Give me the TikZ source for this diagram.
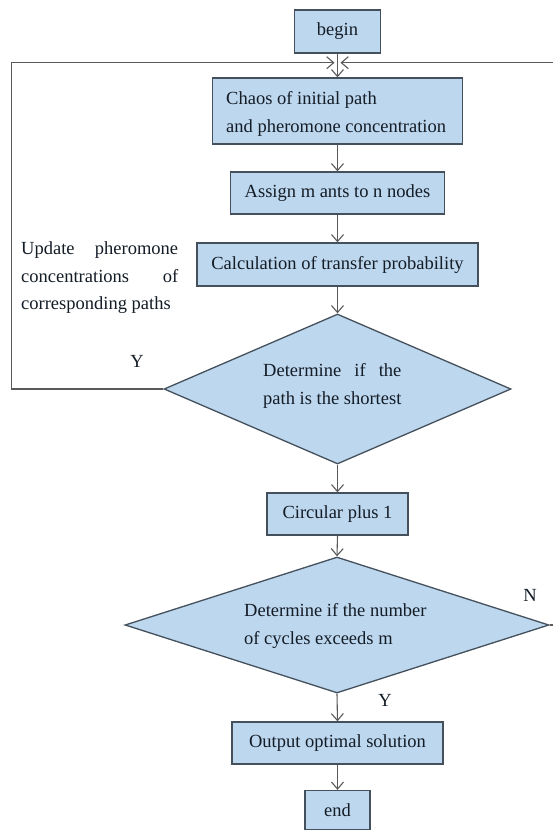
\documentclass[tikz,border=0pt]{standalone}
\usepackage{fontspec}
\usepackage{calc}
\setmainfont{Liberation Serif}
\usetikzlibrary{arrows.meta,shapes.geometric}
\definecolor{boxfill}{HTML}{BDD7EE}
\definecolor{boxline}{HTML}{44505C}
\definecolor{txt}{HTML}{141C26}
\definecolor{conn}{HTML}{5A5A5A}
\begin{document}
\begin{tikzpicture}[x=1pt,y=-1pt,
  every node/.style={font=\fontsize{18.5}{27.5}\selectfont, text=txt},
  stepbox/.style={draw=boxline, line width=1.3pt, fill=boxfill, rectangle, inner sep=0pt},
  decbox/.style={draw=boxline, line width=1.3pt, fill=boxfill, diamond, inner sep=0pt},
  conn/.style={draw=conn, line width=1.1pt, -{Straight Barb[length=7pt,width=12pt,line width=1.1pt]}},
  plain/.style={draw=conn, line width=1.1pt}]
\useasboundingbox (0,0) rectangle (553,830);
\fill[white] (0,0) rectangle (553,830);

\node[stepbox, minimum width=86, minimum height=43] (begin) at (337.5,31.5) {begin};
\node[stepbox, minimum width=250, minimum height=66] (chaos) at (337.5,111) {};
\node[anchor=west, align=left, inner sep=0pt] (chaost) at (226,114) {Chaos of initial path\\and pheromone concentration};
\node[stepbox, minimum width=214, minimum height=42] (assign) at (337.5,193) {Assign m ants to n nodes};
\node[stepbox, minimum width=281, minimum height=43] (calc) at (337.5,264.5) {Calculation of transfer probability};
\node[decbox, minimum width=347, minimum height=150] (d1) at (337.5,389) {};
\node[anchor=west, align=left, inner sep=0pt] (d1t) at (263,386) {\makebox[\widthof{path is the shortest}][s]{Determine\hfill if\hfill the}\\path is the shortest};
\node[stepbox, minimum width=141, minimum height=42] (circ) at (337.5,514) {Circular plus 1};
\node[decbox, minimum width=424, minimum height=136] (d2) at (337,625) {};
\node[anchor=west, align=left, inner sep=0pt] (d2t) at (244,626) {Determine if the number\\of cycles exceeds m};
\node[stepbox, minimum width=211, minimum height=42] (out) at (337.5,743) {Output optimal solution};
\node[stepbox, minimum width=65, minimum height=39] (end) at (337.5,810) {end};

\node[anchor=west, align=left, inner sep=0pt] (upd) at (21,278) {\makebox[157pt][s]{Update\hfill pheromone}\\\makebox[157pt][s]{concentrations\hfill of}\\corresponding paths};
\node (y1) at (137,361) {Y};
\node (y2) at (385,700) {Y};
\node (n1) at (530,595) {N};

\coordinate (merge) at (337.5,62.7);
\coordinate (lc1) at (11.5,389);
\coordinate (lc2) at (11.5,62.7);
\coordinate (rc1) at (562,625);
\coordinate (rc2) at (562,62.7);

\draw[conn] (begin.south) -- (chaos.north);
\draw[conn] (chaos.south) -- (assign.north);
\draw[conn] (assign.south) -- (calc.north);
\draw[conn] (calc.south) -- (d1.north);
\draw[conn] (d1.south) -- (circ.north);
\draw[conn] (circ.south) -- (d2.north);
\draw[conn] (d2.south) -- (out.north);
\draw[conn] (out.south) -- (end.north);
\draw[conn, shorten >=3pt] (d1.west) -- (lc1) -- (lc2) -- (merge);
\draw[conn, shorten >=3pt] (d2.east) -- (rc1) -- (rc2) -- (merge);
\end{tikzpicture}
\end{document}
